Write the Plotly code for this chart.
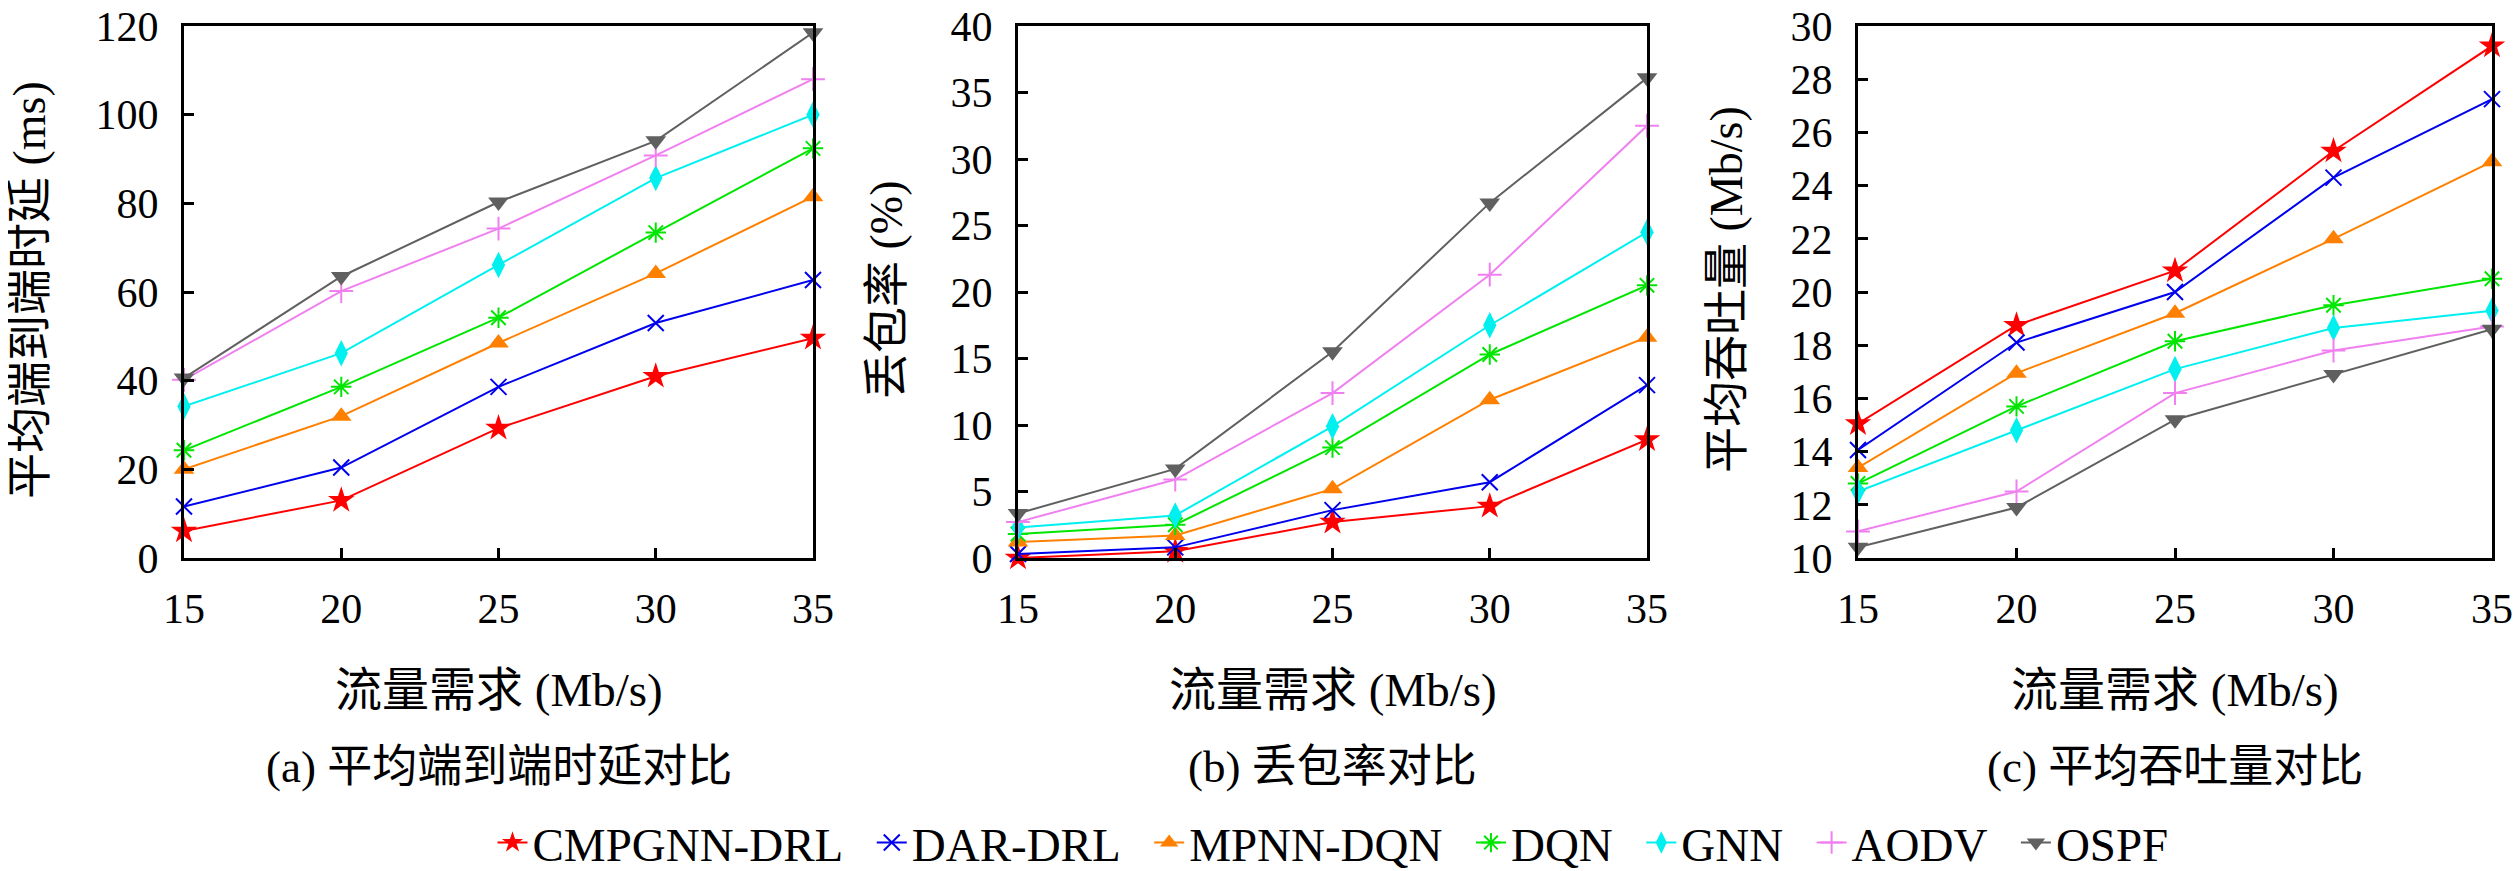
import plotly.graph_objects as go

x_vals = [15, 20, 25, 30, 35]
x_ticks = [15, 20, 25, 30, 35]

methods = ["CMPGNN-DRL", "DAR-DRL", "MPNN-DQN", "DQN", "GNN", "AODV", "OSPF"]
colors = ["#ff0000", "#0000ee", "#ff8000", "#00e600", "#00f0f0", "#f080f0", "#606060"]
symbols = ["star", "x-thin", "triangle-up", "asterisk-open", "diamond-tall", "cross-thin", "triangle-down"]
msizes = [20, 16, 18, 17, 19, 17, 18]

# (a) average end-to-end delay (ms)
delay_cmpgnn = [6.1, 13.0, 29.3, 41.0, 49.6]
delay_dar = [11.6, 20.4, 38.6, 53.0, 62.7]
delay_mpnn = [20.0, 32.0, 48.5, 64.2, 81.5]
delay_dqn = [24.3, 38.6, 54.2, 73.4, 92.4]
delay_gnn = [34.2, 46.2, 66.1, 85.7, 100.0]
delay_aodv = [40.2, 60.2, 74.3, 90.8, 108.0]
delay_ospf = [40.6, 63.5, 80.3, 94.1, 118.5]

# (b) packet loss rate (%)
loss_cmpgnn = [0.0, 0.5, 2.7, 3.9, 8.9]
loss_dar = [0.3, 0.8, 3.6, 5.7, 13.0]
loss_mpnn = [1.2, 1.7, 5.2, 11.9, 16.6]
loss_dqn = [1.8, 2.5, 8.3, 15.3, 20.5]
loss_gnn = [2.3, 3.2, 9.9, 17.5, 24.5]
loss_aodv = [2.7, 5.9, 12.4, 21.3, 32.5]
loss_ospf = [3.35, 6.7, 15.5, 26.7, 36.1]

# (c) average throughput (Mb/s)
thr_cmpgnn = [15.05, 18.75, 20.8, 25.3, 29.25]
thr_dar = [14.06, 18.1, 20.0, 24.3, 27.25]
thr_mpnn = [13.4, 16.95, 19.2, 22.0, 24.9]
thr_dqn = [12.8, 15.7, 18.15, 19.5, 20.5]
thr_gnn = [12.5, 14.8, 17.1, 18.65, 19.3]
thr_aodv = [11.0, 12.5, 16.2, 17.8, 18.7]
thr_ospf = [10.4, 11.9, 15.2, 16.9, 18.6]

panels = [
    [delay_cmpgnn, delay_dar, delay_mpnn, delay_dqn, delay_gnn, delay_aodv, delay_ospf],
    [loss_cmpgnn, loss_dar, loss_mpnn, loss_dqn, loss_gnn, loss_aodv, loss_ospf],
    [thr_cmpgnn, thr_dar, thr_mpnn, thr_dqn, thr_gnn, thr_aodv, thr_ospf],
]
y_titles = ["平均端到端时延 (ms)", "丢包率 (%)", "平均吞吐量 (Mb/s)"]
x_title = "流量需求 (Mb/s)"
sub_titles = ["(a) 平均端到端时延对比", "(b) 丢包率对比", "(c) 平均吞吐量对比"]
y_ranges = [[0, 120], [0, 40], [10, 30]]
y_dticks = [20, 5, 2]

# page body has an 8px default margin: figure sized/offset to compensate
OFF = 8
W, H = 2520 - OFF, 871 - OFF


def fx(px):
    return (px - OFF) / W


def fy(py):
    return 1 - (py - OFF) / H


x_domains = [[fx(184), fx(813)], [fx(1018), fx(1647)], [fx(1858), fx(2492)]]
y_domain = [fy(558), fy(26)]
ytitle_x = [fx(29), fx(886), fx(1726)]

FONT = "Liberation Serif, Noto Sans CJK SC, serif"
GAP = "\u00a0\u00a0"

fig = go.Figure()
for p, series in enumerate(panels):
    xa = "x" if p == 0 else f"x{p+1}"
    ya = "y" if p == 0 else f"y{p+1}"
    for i, m in enumerate(methods):
        thin = symbols[i] in ("x-thin", "asterisk-open", "cross-thin")
        label = m + (GAP if i < len(methods) - 1 else "")
        fig.add_trace(go.Scatter(
            x=x_vals, y=series[i], name=label, mode="lines+markers",
            xaxis=xa, yaxis=ya, legendgroup=m, showlegend=(p == 0),
            cliponaxis=False,
            line=dict(color=colors[i], width=2),
            marker=dict(symbol=symbols[i], size=msizes[i], color=colors[i],
                        line=dict(color=colors[i], width=2 if thin else 0)),
        ))

axis_common = dict(showline=True, linewidth=3, linecolor="black", mirror=True,
                   ticks="inside", ticklen=10, tickwidth=2.5, tickcolor="black",
                   showgrid=False, zeroline=False, automargin=False,
                   ticklabeloverflow="allow",
                   tickfont=dict(family=FONT, size=42, color="black"))

layout = dict(width=W, height=H, margin=dict(l=0, r=0, t=0, b=0, autoexpand=False),
              template="none",
              paper_bgcolor="white", plot_bgcolor="white",
              font=dict(family=FONT, color="black"))
annotations = []
for p in range(3):
    xk = "xaxis" if p == 0 else f"xaxis{p+1}"
    yk = "yaxis" if p == 0 else f"yaxis{p+1}"
    ya = "y" if p == 0 else f"y{p+1}"
    xa = "x" if p == 0 else f"x{p+1}"
    layout[xk] = dict(axis_common, domain=x_domains[p], anchor=ya, range=[15, 35],
                      tickmode="array", tickvals=x_ticks, ticklabelstandoff=12)
    layout[yk] = dict(axis_common, domain=y_domain, anchor=xa, range=y_ranges[p],
                      dtick=y_dticks[p], tick0=y_ranges[p][0], ticklabelstandoff=14)
    cx = (x_domains[p][0] + x_domains[p][1]) / 2
    annotations.append(dict(text=x_title, x=cx, y=fy(690), xref="paper", yref="paper",
                            xanchor="center", yanchor="middle", showarrow=False,
                            font=dict(family=FONT, size=47, color="black")))
    annotations.append(dict(text=sub_titles[p], x=cx, y=fy(767), xref="paper", yref="paper",
                            xanchor="center", yanchor="middle", showarrow=False,
                            font=dict(family=FONT, size=45, color="black")))
    annotations.append(dict(text=y_titles[p], x=ytitle_x[p], y=fy(290), xref="paper", yref="paper",
                            xanchor="center", yanchor="middle", showarrow=False, textangle=-90,
                            font=dict(family=FONT, size=46, color="black")))
layout["annotations"] = annotations
layout["legend"] = dict(orientation="h", x=fx(1333), xanchor="center", y=fy(843), yanchor="middle",
                        font=dict(family=FONT, size=47, color="black"), itemwidth=30,
                        bgcolor="rgba(0,0,0,0)", tracegroupgap=0)
fig.update_layout(**layout)
fig.write_html("out.html")
